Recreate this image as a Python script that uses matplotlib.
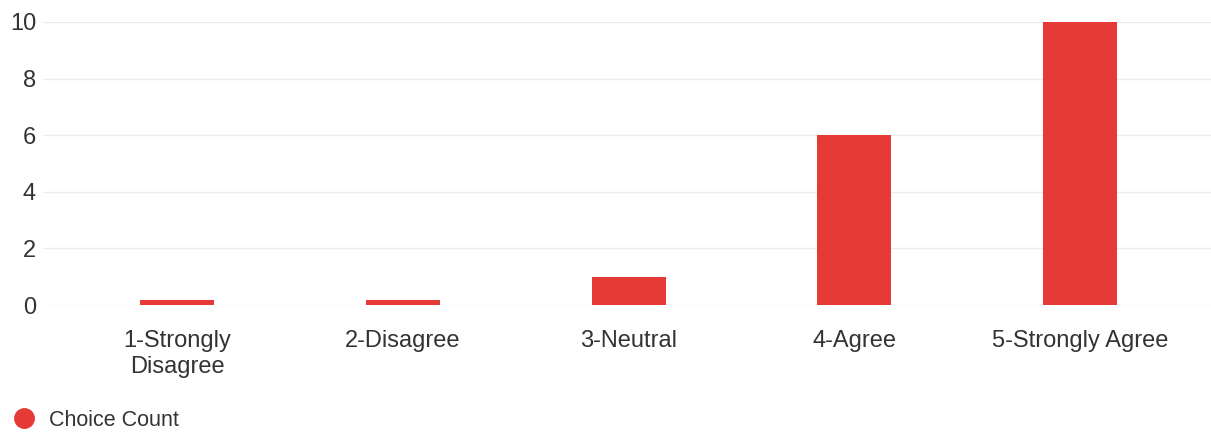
import matplotlib
matplotlib.use("Agg")
import matplotlib.pyplot as plt
from matplotlib.lines import Line2D

categories = ["1-Strongly\nDisagree", "2-Disagree", "3-Neutral", "4-Agree", "5-Strongly Agree"]
choice_count = [0, 0, 1, 6, 10]
y_ticks = [0, 2, 4, 6, 8, 10]

bar_color = "#e53a35"
text_color = "#333333"
plt.rcParams['font.family'] = ['Liberation Sans', 'DejaVu Sans']

fig = plt.figure(figsize=(12.11, 4.32), dpi=100)
ax = fig.add_axes([43/1211, (432-305)/432, (1211-43)/1211, 283/432])

min_visible = 0.16  # zero values still shown as a thin bar
heights = [v if v > 0 else min_visible for v in choice_count]
x = list(range(len(categories)))
ax.bar(x, heights, width=0.328, color=bar_color, zorder=3)

ax.set_xlim(-0.594, 4.58)
ax.set_ylim(0, 10)
ax.set_yticks(y_ticks)
ax.set_yticklabels([str(t) for t in y_ticks])
ax.set_xticks(x)
ax.set_xticklabels(categories, linespacing=1.22)
ax.tick_params(axis='both', length=0, labelsize=17, colors=text_color)
ax.tick_params(axis='x', pad=18)
ax.tick_params(axis='y', pad=5)
ax.grid(axis='y', color='#ededed', linewidth=1, zorder=0)
for s in ax.spines.values():
    s.set_visible(False)

handle = Line2D([0], [0], marker='o', color='none', markerfacecolor=bar_color,
                markeredgecolor=bar_color, markersize=14)
fig.legend([handle], ["Choice Count"], loc='center left',
           bbox_to_anchor=(5/1211, (432-420)/432), frameon=False,
           fontsize=15.5, handletextpad=0.55, handlelength=1.2,
           labelcolor=text_color, borderaxespad=0, borderpad=0.3)

fig.savefig("out.png", dpi=100, facecolor='white')
